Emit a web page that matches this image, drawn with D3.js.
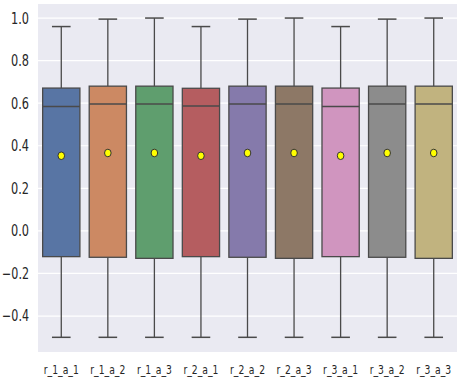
<!DOCTYPE html>
<html>
<head>
<meta charset="utf-8">
<script src="https://cdn.jsdelivr.net/npm/d3@7"></script>
<style>
  body { margin: 0; background: #fff; }
  text { font-family: "DejaVu Sans", sans-serif; fill: #262626; }
</style>
</head>
<body>
<script>
var categories = ["r_1_a_1", "r_1_a_2", "r_1_a_3", "r_2_a_1", "r_2_a_2", "r_2_a_3", "r_3_a_1", "r_3_a_2", "r_3_a_3"];
var whiskerHigh = [0.96, 0.995, 1.0, 0.96, 0.995, 1.0, 0.96, 0.995, 1.0];
var q3 = [0.671, 0.68, 0.68, 0.67, 0.68, 0.68, 0.671, 0.68, 0.68];
var medians = [0.585, 0.596, 0.596, 0.587, 0.596, 0.596, 0.585, 0.596, 0.596];
var q1 = [-0.121, -0.124, -0.129, -0.121, -0.124, -0.129, -0.121, -0.124, -0.129];
var whiskerLow = [-0.5, -0.5, -0.5, -0.5, -0.5, -0.5, -0.5, -0.5, -0.5];
var means = [0.353, 0.366, 0.366, 0.353, 0.366, 0.366, 0.353, 0.366, 0.366];
var yTicks = [-0.4, -0.2, 0.0, 0.2, 0.4, 0.6, 0.8, 1.0];
var colors = ["#5875A4", "#CC8963", "#5F9E6E", "#B55D60", "#857AAB", "#8D7866", "#D095BF", "#8C8C8C", "#C1B37F"];

var W = 463, H = 382;
var margin = {top: 4, right: 6, bottom: 30, left: 38};
var width = W - margin.left - margin.right,
    height = H - margin.top - margin.bottom;
var lineColor = "#4a4a4a";

var svg = d3.select("body").append("svg")
    .attr("width", W)
    .attr("height", H)
    .append("g")
    .attr("transform", "translate(" + margin.left + "," + margin.top + ")");

var x = d3.scaleBand().domain(categories).range([0, width]);
var y = d3.scaleLinear().domain([-0.569, 1.066]).range([height, 0]);

// background + grid
svg.append("rect")
    .attr("width", width)
    .attr("height", height)
    .attr("fill", "#EAEAF2");

svg.selectAll(".grid")
    .data(yTicks)
    .enter().append("line")
    .attr("x1", 0).attr("x2", width)
    .attr("y1", function (d) { return y(d); })
    .attr("y2", function (d) { return y(d); })
    .attr("stroke", "#fff")
    .attr("stroke-width", 1.2);

// y axis
var yAxis = svg.append("g")
    .call(d3.axisLeft(y).tickValues(yTicks).tickSize(0).tickPadding(9)
        .tickFormat(function (d) { return d3.format(".1f")(d).replace("-", "\u2212"); }));
yAxis.select(".domain").remove();
yAxis.selectAll("text")
    .style("font-size", "15.5px")
    .attr("textLength", function () { return this.textContent.length > 3 ? 27 : 18; })
    .attr("lengthAdjust", "spacingAndGlyphs");

// x axis
var xAxis = svg.append("g")
    .attr("transform", "translate(0," + height + ")")
    .call(d3.axisBottom(x).tickSize(0).tickPadding(13));
xAxis.select(".domain").remove();
xAxis.selectAll("text")
    .style("font-size", "12px")
    .attr("textLength", 35)
    .attr("lengthAdjust", "spacingAndGlyphs");

// boxes
var bw = x.bandwidth() * 0.8;
var groups = svg.selectAll(".box")
    .data(categories)
    .enter().append("g")
    .attr("class", "box");

groups.each(function (c, i) {
    var g = d3.select(this);
    var cx = x(c) + x.bandwidth() / 2;

    // whiskers
    g.append("line")
        .attr("x1", cx).attr("x2", cx)
        .attr("y1", y(q3[i])).attr("y2", y(whiskerHigh[i]))
        .attr("stroke", lineColor).attr("stroke-width", 1.3);
    g.append("line")
        .attr("x1", cx).attr("x2", cx)
        .attr("y1", y(q1[i])).attr("y2", y(whiskerLow[i]))
        .attr("stroke", lineColor).attr("stroke-width", 1.3);
    // caps
    [whiskerHigh[i], whiskerLow[i]].forEach(function (v) {
        g.append("line")
            .attr("x1", cx - bw / 4).attr("x2", cx + bw / 4)
            .attr("y1", y(v)).attr("y2", y(v))
            .attr("stroke", lineColor).attr("stroke-width", 1.5);
    });

    // box
    g.append("rect")
        .attr("x", cx - bw / 2)
        .attr("y", y(q3[i]))
        .attr("width", bw)
        .attr("height", y(q1[i]) - y(q3[i]))
        .attr("fill", colors[i])
        .attr("stroke", lineColor)
        .attr("stroke-width", 1.3);

    // median
    g.append("line")
        .attr("x1", cx - bw / 2).attr("x2", cx + bw / 2)
        .attr("y1", y(medians[i])).attr("y2", y(medians[i]))
        .attr("stroke", lineColor).attr("stroke-width", 1.5);

    // mean
    g.append("ellipse")
        .attr("cx", cx)
        .attr("cy", y(means[i]))
        .attr("rx", 3.3)
        .attr("ry", 3.8)
        .attr("fill", "#FFFF00")
        .attr("stroke", "#333")
        .attr("stroke-width", 1);
});
</script>
</body>
</html>
